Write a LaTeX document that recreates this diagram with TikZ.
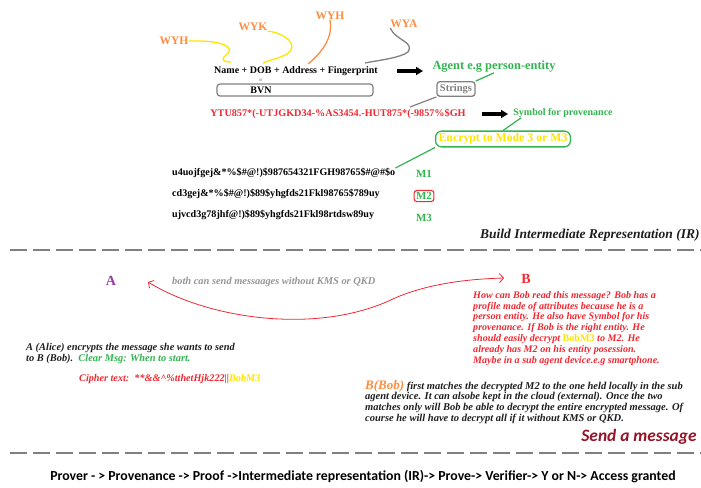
\documentclass[tikz,border=0pt]{standalone}
\usepackage{fontspec}
\setmainfont{Liberation Serif}
\newfontfamily\calibri{Carlito}
\usetikzlibrary{arrows.meta}
\definecolor{wyorange}{RGB}{255,140,64}
\definecolor{wyyellow}{RGB}{255,228,0}
\definecolor{tagreen}{RGB}{50,180,80}
\definecolor{txred}{RGB}{240,40,50}
\definecolor{apurple}{RGB}{150,60,160}
\definecolor{msgred}{RGB}{150,20,40}
\definecolor{midgray}{RGB}{128,128,128}
\definecolor{ltgray}{RGB}{150,150,150}
\definecolor{ink}{RGB}{30,30,30}
\pgfdeclarelayer{edgelayer}
\pgfdeclarelayer{nodelayer}
\pgfsetlayers{edgelayer,nodelayer,main}
\tikzstyle{none}=[inner sep=0pt]
\tikzstyle{tag}=[inner sep=0pt,text=wyorange,font=\bfseries\fontsize{11.5}{11.5}\selectfont]
\tikzstyle{plain}=[inner sep=0pt,font=\bfseries\fontsize{10}{10}\selectfont]
\tikzstyle{code}=[inner sep=0pt,anchor=west,font=\bfseries\fontsize{10.1}{10.1}\selectfont]
\tikzstyle{note}=[inner sep=0pt,text=tagreen,font=\bfseries\fontsize{10.5}{10.5}\selectfont]
\tikzstyle{strbox}=[rectangle,rounded corners=3pt,draw=midgray,line width=1.3pt,inner xsep=3pt,inner ysep=2.5pt]
\tikzstyle{encbox}=[rectangle,rounded corners=6pt,draw=tagreen,line width=1.3pt,text=wyyellow,inner xsep=3pt,inner ysep=2.5pt,font=\bfseries\fontsize{11.8}{11.8}\selectfont]
\tikzstyle{mbox}=[rectangle,rounded corners=3pt,draw=txred,line width=1.1pt,text=tagreen,inner xsep=2pt,inner ysep=2pt,font=\bfseries\fontsize{11}{11}\selectfont]
\tikzstyle{para}=[inner sep=0pt,anchor=north west,align=left,font=\bfseries\itshape\fontsize{10.1}{10.85}\selectfont]
\tikzstyle{fatarrow}=[-{Triangle[length=7pt,width=8pt]},line width=3.2pt,draw=black]
\tikzstyle{squiggle}=[-,line width=1.3pt]
\tikzstyle{pointer}=[-,line width=1.2pt]
\tikzstyle{cut}=[-,draw=midgray,line width=2.4pt,dash pattern=on 17pt off 6pt]
\tikzstyle{talk}=[{Straight Barb[length=4pt,width=9pt]}-{Straight Barb[length=4pt,width=9pt]},draw=txred,line width=0.8pt]
\begin{document}
\begin{tikzpicture}[x=1pt,y=-1pt]
	\useasboundingbox (0,0) rectangle (701,487);
	\begin{pgfonlayer}{nodelayer}
		% build IR
		\node [style=tag] (wyhA) at (174,41) {WYH};
		\node [style=tag] (wyk) at (253,27) {WYK};
		\node [style=tag] (wyhB) at (330,16) {WYH};
		\node [style=tag] (wya) at (404,24) {WYA};
		\node [style=plain] (attr) at (296,71) {Name + DOB + Address + Fingerprint};
		\node [style=none,text=midgray,font=\fontsize{5}{5}\selectfont] (or) at (261,80) {or};
		\node [style=none,draw=midgray,line width=1.2pt,rounded corners=3pt,minimum width=156pt,minimum height=12pt] (bvnbox) at (295,90) {};
		\node [style=plain] (bvn) at (261,90) {BVN};
		\node [style=note,font=\bfseries\fontsize{12.4}{12.4}\selectfont] (agent) at (494,67) {Agent e.g person-entity};
		\node [style=strbox,text=midgray,font=\bfseries\fontsize{10.5}{10.5}\selectfont] (strings) at (456,89) {Strings};
		\node [style=plain,text=txred,font=\bfseries\fontsize{10.2}{10.2}\selectfont] (sym) at (338,114) {YTU857*(-UTJGKD34-\%AS3454.-HUT875*(-9857\%\$GH};
		\node [style=note,font=\bfseries\fontsize{10}{10}\selectfont] (symbol) at (563,113) {Symbol for provenance};
		\node [style=encbox] (encrypt) at (503,139) {Encrypt to Mode 3 or M3};
		\node [style=code] (mOneCode) at (172,173) {u4uojfgej\&*\%\$\#@!)\$987654321FGH98765\$\#@\#\$o};
		\node [style=code] (mTwoCode) at (172,194) {cd3gej\&*\%\$\#@!)\$89\$yhgfds21Fkl98765\$789uy};
		\node [style=code] (mThreeCode) at (172,215) {ujvcd3g78jhf@!)\$89\$yhgfds21Fkl98rtdsw89uy};
		\node [style=note,font=\bfseries\fontsize{11}{11}\selectfont] (mOne) at (424,174) {M1};
		\node [style=mbox] (mTwo) at (424,196) {M2};
		\node [style=note,font=\bfseries\fontsize{11}{11}\selectfont] (mThree) at (424,218) {M3};
		\node [style=none,anchor=west,text=ink,font=\bfseries\itshape\fontsize{13.5}{13.5}\selectfont] (build) at (480,235) {Build Intermediate Representation (IR)};
		\coordinate (cutAL) at (10,250);
		\coordinate (cutAR) at (701,250);
		\coordinate (arrAs) at (397,71);
		\coordinate (arrAe) at (423,71);
		\coordinate (arrBs) at (482,114);
		\coordinate (arrBe) at (508,114);
		\coordinate (nameA) at (231,62);
		\coordinate (nameB) at (263,63);
		\coordinate (nameC) at (308,64);
		\coordinate (nameD) at (365,63);
		\coordinate (symTop) at (410,107);

		% send a message
		\node [style=none,text=apurple,font=\bfseries\fontsize{14}{14}\selectfont] (A) at (111,281) {A};
		\node [style=none,text=txred,font=\bfseries\fontsize{14}{14}\selectfont] (B) at (526,279) {B};
		\node [style=none,anchor=west,text=ltgray,font=\bfseries\itshape\fontsize{10.4}{10.4}\selectfont] (both) at (172,282) {both can send messaages without KMS or QKD};
		\coordinate (tipA) at (148,282);
		\coordinate (tipB) at (504,278);
		\node [style=para,text=txred] (howBob) at (473,291) {How can Bob read this message? Bob has a\\profile made of attributes because he is a\\person entity. He also have Symbol for his\\provenance. If Bob is the right entity. He\\should easily decrypt {\upshape\color{wyyellow}BobM3} to M2. He\\already has M2 on his entity posession.\\Maybe in a sub agent device.e.g smartphone.};
		\node [style=para,text=ink,font=\bfseries\itshape\fontsize{10.4}{11}\selectfont] (alice) at (26,343) {A (Alice) encrypts the message she wants to send\\to B (Bob).\enspace{\color{tagreen}Clear Msg: When to start.}};
		\node [style=none,anchor=west,text=txred,font=\bfseries\itshape\fontsize{10.2}{10.2}\selectfont] (cipher) at (79,379) {Cipher text:\enspace **\&\&\textasciicircum\%tthetHjk222||{\color{wyyellow}BobM3}};
		\node [style=para,text=ink,font=\bfseries\itshape\fontsize{10.5}{10.7}\selectfont] (bobNote) at (365,380) {{\color{wyorange}\fontsize{13}{11}\selectfont B(Bob)} first matches the decrypted M2 to the one held locally in the sub\\agent device. It can alsobe kept in the cloud (external). Once the two\\matches only will Bob be able to decrypt the entire encrypted message. Of\\course he will have to decrypt all if it without KMS or QKD.};
		\node [style=none,text=msgred,font=\calibri\bfseries\itshape\fontsize{17.4}{17.4}\selectfont] (send) at (639,437) {Send a message};
		\coordinate (cutBL) at (10,453);
		\coordinate (cutBR) at (701,453);

		% chain
		\node [style=none,font=\calibri\bfseries\fontsize{13.8}{13.8}\selectfont] (chain) at (363,477) {Prover - > Provenance -> Proof ->Intermediate representation (IR)-> Prove-> Verifier-> Y or N-> Access granted};
	\end{pgfonlayer}
	\begin{pgfonlayer}{edgelayer}
		\draw [style=squiggle,draw=wyyellow] (wyhA.east) .. controls (225,40) and (236,48) .. (226,55) .. controls (220,60) and (224,62) .. (nameA);
		\draw [style=squiggle,draw=wyyellow] (wyk.south east) .. controls (285,33) and (300,45) .. (287,54) .. controls (280,58) and (270,60) .. (nameB);
		\draw [style=squiggle,draw=wyorange] (wyhB.south) .. controls (333,35) and (325,50) .. (nameC);
		\draw [style=squiggle,draw=midgray] (wya.south west) .. controls (395,40) and (415,42) .. (408,52) .. controls (400,58) and (380,60) .. (nameD);
		\draw [style=fatarrow] (arrAs) to (arrAe);
		\draw [style=fatarrow] (arrBs) to (arrBe);
		\draw [style=pointer,draw=tagreen] (strings.north east) to (agent.south);
		\draw [style=pointer,draw=midgray] (symTop) to (strings.south west);
		\draw [style=pointer,draw=tagreen] ([xshift=8pt]symbol.south west) to (encrypt.north);
		\draw [style=pointer,draw=tagreen] (encrypt.south west) to (mOneCode.north east);
		\draw [style=cut] (cutAL) to (cutAR);
		\draw [style=talk] (tipA) .. controls (210,320) and (320,335) .. (395,298) .. controls (430,283) and (470,279) .. (tipB);
		\draw [style=cut] (cutBL) to (cutBR);
	\end{pgfonlayer}
\end{tikzpicture}
\end{document}
